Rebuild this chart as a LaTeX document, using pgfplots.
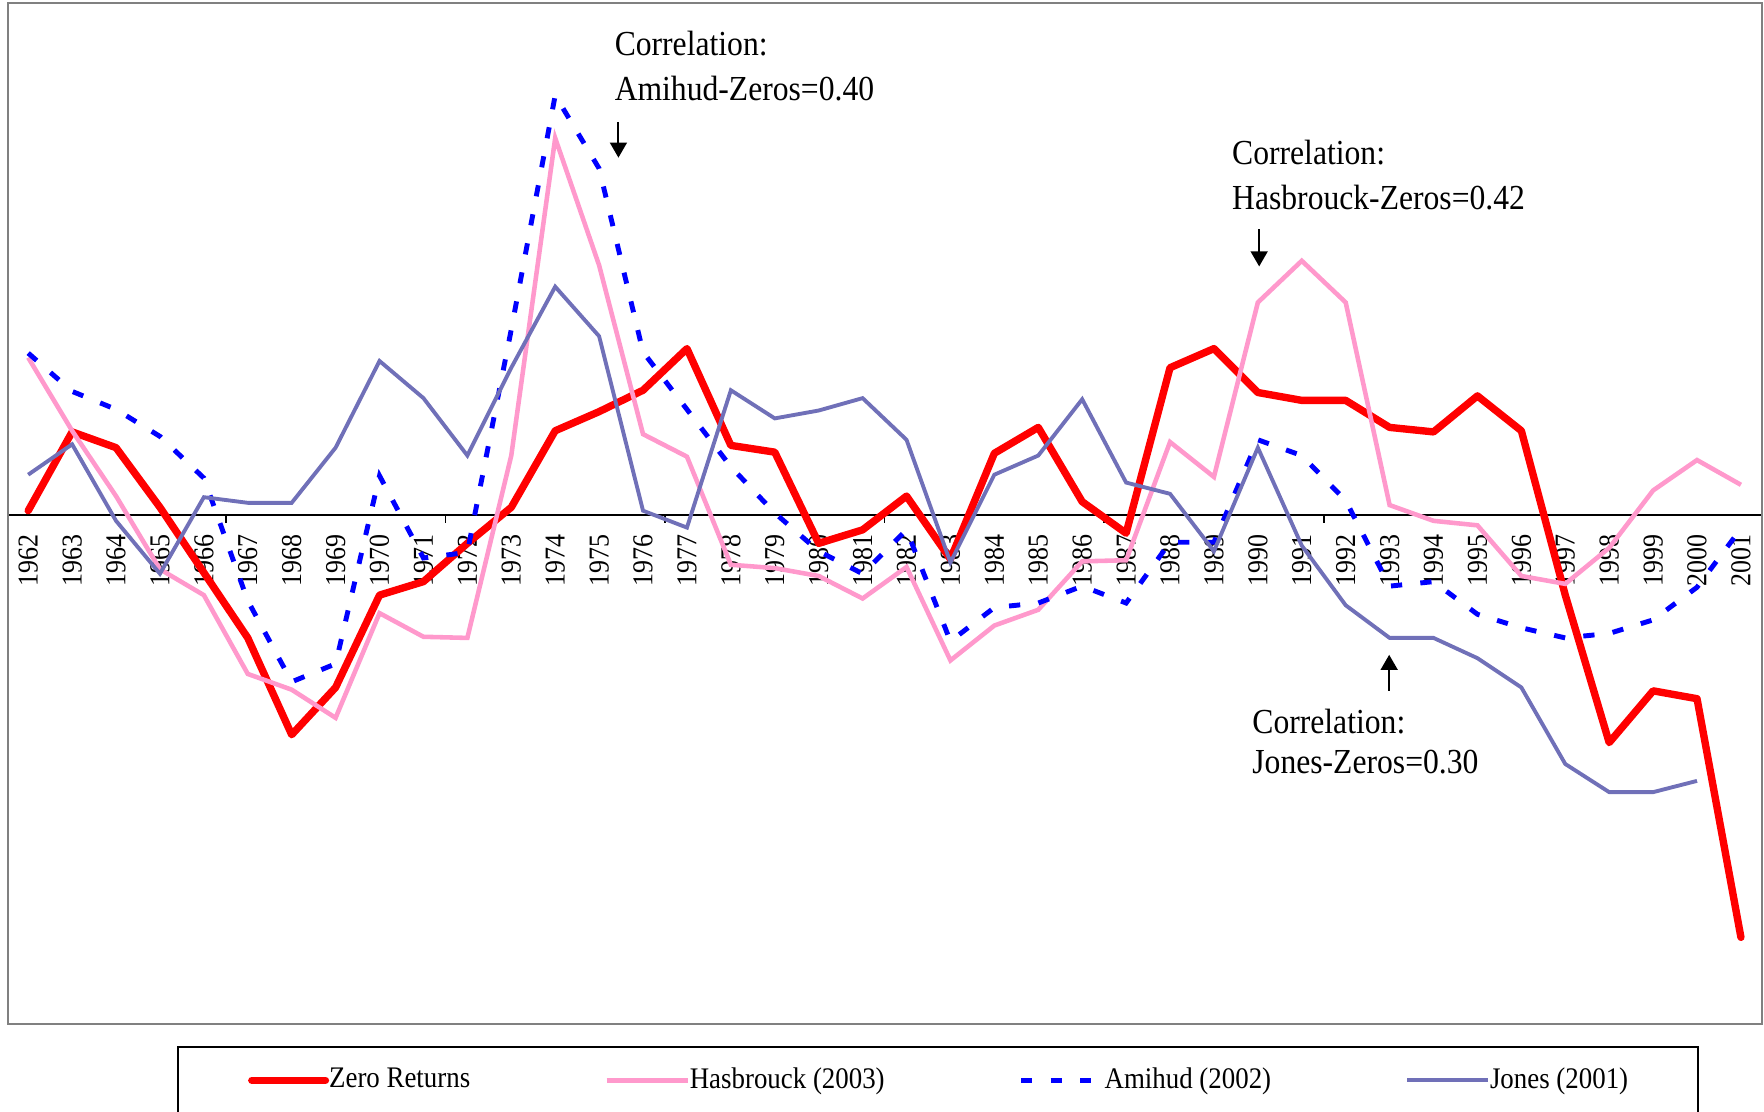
\documentclass[border=0pt]{standalone}
\usepackage{fontspec}
\setmainfont{Liberation Serif}[FakeStretch=0.9]
\usepackage{pgfplots}
\usepackage{pgfplotstable}
\pgfplotsset{compat=1.18}
\usetikzlibrary{arrows.meta}
\definecolor{zr}{RGB}{255,0,0}
\definecolor{hb}{RGB}{255,153,204}
\definecolor{am}{RGB}{0,0,255}
\definecolor{jo}{RGB}{112,112,184}
\definecolor{framegray}{RGB}{128,128,128}

\pgfplotstableread{
i zr hb am jo
0 0.04 1.40 1.44 0.36
1 0.74 0.75 1.10 0.63
2 0.60 0.17 0.94 -0.05
3 0.07 -0.48 0.70 -0.52
4 -0.51 -0.71 0.33 0.16
5 -1.09 -1.41 -0.76 0.11
6 -1.95 -1.55 -1.48 0.11
7 -1.53 -1.80 -1.32 0.60
8 -0.71 -0.87 0.35 1.37
9 -0.59 -1.08 -0.38 1.04
10 -0.25 -1.09 -0.33 0.53
11 0.07 0.53 1.65 1.31
12 0.75 3.35 3.73 2.03
13 0.92 2.22 3.08 1.59
14 1.11 0.72 1.45 0.04
15 1.48 0.52 0.94 -0.11
16 0.62 -0.44 0.43 1.11
17 0.56 -0.47 0.02 0.86
18 -0.25 -0.54 -0.32 0.93
19 -0.13 -0.74 -0.52 1.04
20 0.17 -0.46 -0.13 0.67
21 -0.39 -1.29 -1.12 -0.42
22 0.55 -0.98 -0.82 0.36
23 0.78 -0.84 -0.78 0.53
24 0.12 -0.41 -0.63 1.03
25 -0.16 -0.40 -0.78 0.29
26 1.31 0.65 -0.24 0.19
27 1.48 0.34 -0.24 -0.32
28 1.09 1.89 0.67 0.60
29 1.02 2.26 0.53 -0.27
30 1.02 1.89 0.13 -0.80
31 0.78 0.09 -0.63 -1.09
32 0.74 -0.05 -0.59 -1.09
33 1.06 -0.09 -0.88 -1.27
34 0.75 -0.54 -1.00 -1.53
35 -0.71 -0.61 -1.09 -2.21
36 -2.02 -0.29 -1.05 -2.46
37 -1.56 0.22 -0.93 -2.46
38 -1.63 0.49 -0.64 -2.36
39 -3.75 0.27 -0.12 nan
}\data

\begin{document}
\begin{tikzpicture}
\begin{axis}[
  scale only axis,
  width=175.4mm, height=102.1mm,
  xmin=-0.46, xmax=39.48,
  ymin=-4.52, ymax=4.55,
  axis x line=middle,
  axis y line=none,
  axis line style={-},
  x axis line style={-, black, line width=0.45pt},
  hide obscured x ticks=false,
  xtick={0,...,39},
  xticklabels={1962,1963,1964,1965,1966,1967,1968,1969,1970,1971,1972,1973,1974,1975,1976,1977,1978,1979,1980,1981,1982,1983,1984,1985,1986,1987,1988,1989,1990,1991,1992,1993,1994,1995,1996,1997,1998,1999,2000,2001},
  major tick length=0pt,
  xticklabel style={yshift=-1.9mm, rotate=90, anchor=east, inner sep=0pt, font=\fontsize{8.2}{9}\selectfont},
  extra x ticks={4.5,9.5,14.5,19.5,24.5,29.5,34.5},
  extra x tick labels={},
  extra x tick style={major tick length=2.2pt, tick align=outside, tick style={black, line width=0.45pt}},
  legend columns=4,
  legend style={at={(rel axis cs:0.0965,-0.0215)}, anchor=north west,
    draw=black, line width=0.5pt, inner xsep=7mm, inner ysep=2.05mm,
    font=\fontsize{8.5}{10}\selectfont,
    nodes={inner sep=0pt},
    /tikz/every even column/.append style={column sep=13.4mm},
    cells={anchor=west}},
  legend image code/.code={\draw[#1] (0mm,0mm) -- (8.1mm,0mm);},
]
\addplot[zr, line width=2.1pt, line join=round, line cap=round,
  legend image code/.code={\draw[zr, line width=2.1pt, line cap=round] (1.05pt,0mm) -- ({8.1mm-1.05pt},0mm);}]
  table[x=i,y=zr]{\data};
\addlegendentry{Zero Returns}
\addplot[hb, line width=1.3pt] table[x=i,y=hb]{\data};
\addlegendentry{Hasbrouck (2003)}
\addplot[am, line width=1.4pt, dash pattern=on 3.2pt off 5.2pt] table[x=i,y=am]{\data};
\addlegendentry{Amihud (2002)}
\addplot[jo, line width=1.1pt] table[x=i,y=jo]{\data};
\addlegendentry{Jones (2001)}

\node[anchor=west, inner sep=0pt, font=\fontsize{10}{12}\selectfont] at (axis cs:13.34,4.19) {Correlation:};
\node[anchor=west, inner sep=0pt, font=\fontsize{10}{12}\selectfont] at (axis cs:13.34,3.79) {Amihud-Zeros=0.40};
\node[anchor=west, inner sep=0pt, font=\fontsize{10}{12}\selectfont] at (axis cs:27.40,3.22) {Correlation:};
\node[anchor=west, inner sep=0pt, font=\fontsize{10}{12}\selectfont] at (axis cs:27.40,2.82) {Hasbrouck-Zeros=0.42};
\node[anchor=west, inner sep=0pt, font=\fontsize{10}{12}\selectfont] at (axis cs:27.86,-1.83) {Correlation:};
\node[anchor=west, inner sep=0pt, font=\fontsize{10}{12}\selectfont] at (axis cs:27.86,-2.19) {Jones-Zeros=0.30};
\draw[line width=0.6pt, -{Triangle[length=4.3pt,width=4.8pt]}] (axis cs:13.44,3.495) -- (axis cs:13.44,3.176);
\draw[line width=0.6pt, -{Triangle[length=4.3pt,width=4.8pt]}] (axis cs:28.03,2.54) -- (axis cs:28.03,2.21);
\draw[line width=0.6pt, -{Triangle[length=4.3pt,width=4.8pt]}] (axis cs:30.99,-1.56) -- (axis cs:30.99,-1.24);

\coordinate (SW) at (rel axis cs:0,0);
\coordinate (NE) at (rel axis cs:1,1);
\end{axis}
\draw[framegray, line width=0.65pt] (SW) rectangle (NE);
\pgfresetboundingbox
\path[use as bounding box] ([shift={(-0.8mm,-8.7mm)}]SW) rectangle ([shift={(0.2mm,0.3mm)}]NE);
\end{tikzpicture}
\end{document}
